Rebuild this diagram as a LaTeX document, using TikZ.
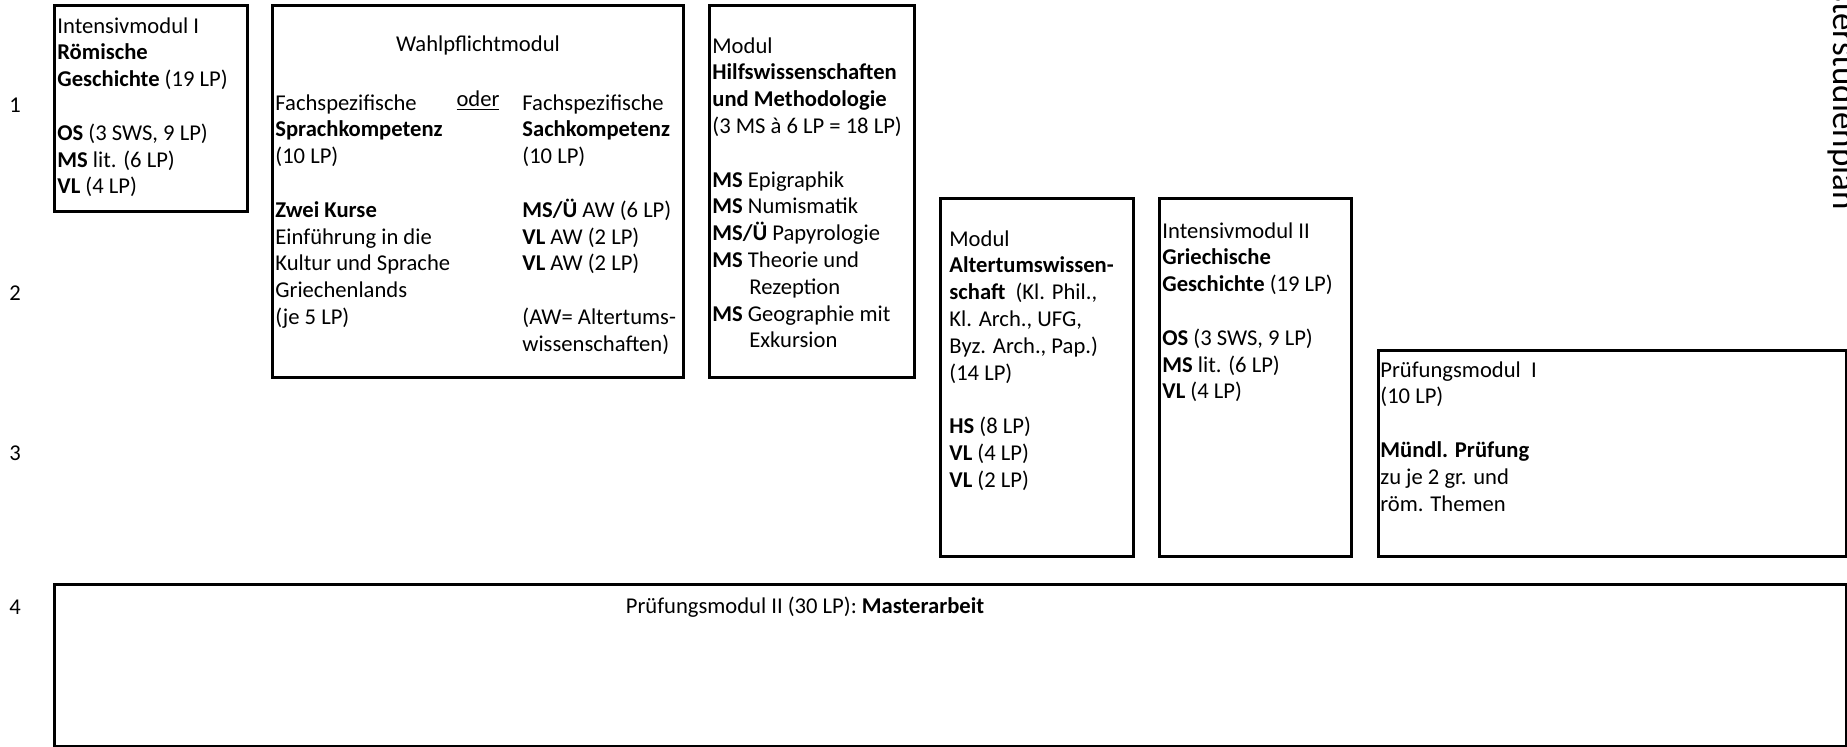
\documentclass[tikz,border=0pt]{standalone}
\usepackage{fontspec}
\setmainfont{Carlito}

\begin{document}
\begin{tikzpicture}[x=0.5pt,y=-0.5pt]
	\tikzstyle{every node}=[inner sep=0pt,font=\fontsize{11.3}{13.4}\selectfont]
	\tikzstyle{modul}=[draw,line width=1.5pt]
	\tikzstyle{inhalt}=[anchor=north west,align=left]
	%\tikzstyle{semester}=[font=\large]
	\useasboundingbox (0,0) rectangle (1847,747);
	% Semester
	\node (s1) at (15,105) {1};
	\node (s2) at (15,293) {2};
	\node (s3) at (15,453) {3};
	\node (s4) at (15,607) {4};
	% Rahmen
	\draw[modul] (54,6) rectangle (247,212);
	\draw[modul] (272,6) rectangle (683,378);
	\draw[modul] (709,6) rectangle (914,378);
	\draw[modul] (940,199) rectangle (1133,557);
	\draw[modul] (1159,199) rectangle (1351,557);
	\draw[modul] (1378,351) rectangle (1846.5,557);
	\draw[modul] (54,585) rectangle (1846.5,746.5);
	% Module
	\node[inhalt] (roem) at (57,17) {Intensivmodul I\\ \textbf{Römische}\\ \textbf{Geschichte} (19 LP)\\[13.4pt]
		\textbf{OS} (3 SWS, 9 LP)\\ \textbf{MS} lit. (6 LP)\\ \textbf{VL} (4 LP)};
	\node (wahl) at (478,45) {Wahlpflichtmodul};
	\node[inhalt] (sprach) at (275,94) {Fachspezifische\\ \textbf{Sprachkompetenz}\\ (10 LP)\\[13.4pt]
		\textbf{Zwei Kurse}\\ Einführung in die\\ Kultur und Sprache\\ Griechenlands\\ (je 5 LP)};
	\node (oder) at (478,101) {\underline{oder}};
	\node[inhalt] (sach) at (522,94) {Fachspezifische\\ \textbf{Sachkompetenz}\\ (10 LP)\\[13.4pt]
		\textbf{MS/Ü} AW (6 LP)\\ \textbf{VL} AW (2 LP)\\ \textbf{VL} AW (2 LP)\\[13.4pt]
		(AW= Altertums-\\ wissenschaften)};
	\node[inhalt] (hilfs) at (712,37) {Modul\\ \textbf{Hilfswissenschaften}\\ \textbf{und Methodologie}\\ (3 MS à 6 LP = 18 LP)\\[13.4pt]
		\textbf{MS} Epigraphik\\ \textbf{MS} Numismatik\\ \textbf{MS/Ü} Papyrologie\\ \textbf{MS} Theorie und\\ \hspace*{18.5pt}Rezeption\\
		\textbf{MS} Geographie mit\\ \hspace*{18.5pt}Exkursion};
	\node[inhalt] (alt) at (949,230) {Modul\\ \textbf{Altertumswissen-}\\ \textbf{schaft}\ \ (Kl. Phil.,\\ Kl. Arch., UFG,\\ Byz. Arch., Pap.)\\ (14 LP)\\[13.4pt]
		\textbf{HS} (8 LP)\\ \textbf{VL} (4 LP)\\ \textbf{VL} (2 LP)};
	\node[inhalt] (griech) at (1162,222) {Intensivmodul II\\ \textbf{Griechische}\\ \textbf{Geschichte} (19 LP)\\[13.4pt]
		\textbf{OS} (3 SWS, 9 LP)\\ \textbf{MS} lit. (6 LP)\\ \textbf{VL} (4 LP)};
	\node[inhalt] (pruef1) at (1380,361) {Prüfungsmodul\ \ I\\ (10 LP)\\[13.4pt]
		\textbf{Mündl. Prüfung}\\ zu je 2 gr. und\\ röm. Themen};
	\node (pruef2) at (805,607) {Prüfungsmodul II (30 LP): \textbf{Masterarbeit}};
	% Titel
	\node[rotate=-90,anchor=base east,font=\fontsize{17.5}{21}\selectfont] (titel) at (1833,210) {Masterstudienplan};
\end{tikzpicture}
\end{document}
